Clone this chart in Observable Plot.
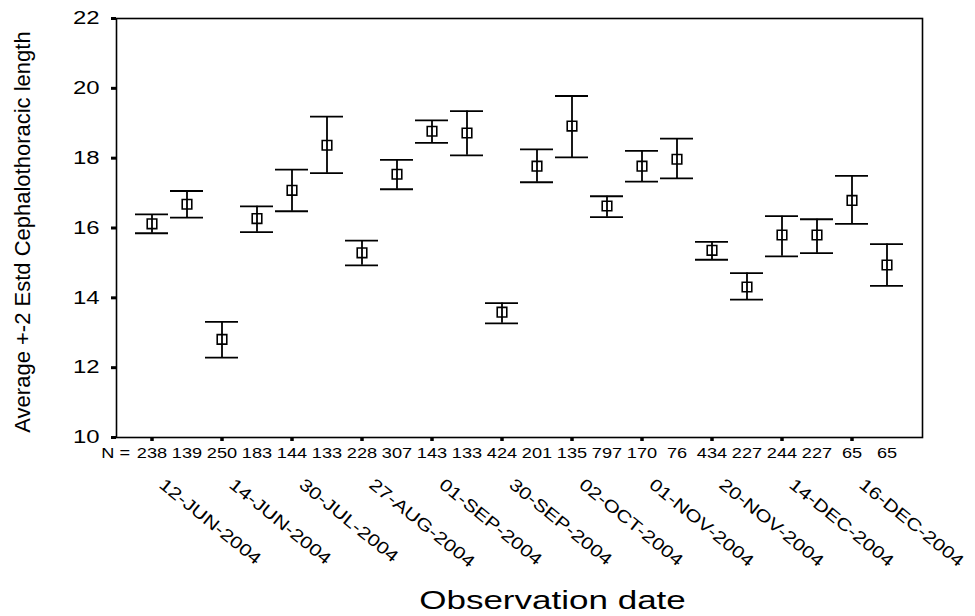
<!DOCTYPE html>
<html>
<head>
<meta charset="utf-8">
<script src="https://cdn.jsdelivr.net/npm/d3@7"></script>
<script src="https://cdn.jsdelivr.net/npm/@observablehq/plot@0.6"></script>
<style>
  html, body { margin: 0; padding: 0; background: #fff; }
  body { width: 975px; height: 616px; overflow: hidden; }
  svg { font-family: "Liberation Sans", Arial, sans-serif; }
</style>
</head>
<body>
<script>
// Observation groups (x categories, in order)
const groups = [1,2,3,4,5,6,7,8,9,10,11,12,13,14,15,16,17,18,19,20,21,22];
// Date labels shown on every other group (SPSS thinned labels)
const dateLabels = ["12-JUN-2004","14-JUN-2004","30-JUL-2004","27-AUG-2004","01-SEP-2004",
  "30-SEP-2004","02-OCT-2004","01-NOV-2004","20-NOV-2004","14-DEC-2004","16-DEC-2004"];
// Sample sizes
const ns = [238,139,250,183,144,133,228,307,143,133,424,201,135,797,170,76,434,227,244,227,65,65];
// Means and +-2 SE limits of cephalothoracic length
const means = [16.12,16.68,12.81,16.27,17.08,18.37,15.29,17.54,18.77,18.72,13.59,17.77,18.92,16.63,17.77,17.97,15.36,14.31,15.80,15.80,16.79,14.94];
const highs = [16.39,17.06,13.31,16.62,17.67,19.19,15.64,17.95,19.08,19.35,13.85,18.25,19.78,16.91,18.21,18.56,15.60,14.71,16.34,16.25,17.49,15.54];
const lows  = [15.85,16.30,12.29,15.88,16.48,17.57,14.93,17.11,18.44,18.08,13.27,17.31,18.02,16.31,17.33,17.42,15.09,13.95,15.19,15.28,16.12,14.34];
const yTicks = [10,12,14,16,18,20,22];

const data = groups.map((g, i) => ({g, n: ns[i], mean: means[i], hi: highs[i], lo: lows[i]}));
const tickGroups = groups.filter((g, i) => i % 2 === 0);

const chart = Plot.plot({
  width: 975,
  height: 616,
  marginLeft: 116,
  marginRight: 53,
  marginTop: 18,
  marginBottom: 179,
  style: {fontFamily: "'Liberation Sans', Arial, sans-serif", color: "#000", background: "#fff"},
  x: {type: "band", domain: groups, paddingInner: 0.06, paddingOuter: 0.53, align: 0.5},
  y: {domain: [10, 22]},
  marks: [
    Plot.frame({stroke: "#000", strokeWidth: 1.6}),
    Plot.axisY({ticks: yTicks, tickSize: 5, tickPadding: 12, strokeWidth: 3, fontSize: 18, label: null}),
    Plot.axisX({ticks: tickGroups, tickSize: 4, strokeWidth: 3.5, tickFormat: () => "", label: null}),
    Plot.ruleX(data, {x: "g", y1: "lo", y2: "hi", stroke: "#000", strokeWidth: 1.8}),
    Plot.tickY(data, {x: "g", y: "hi", stroke: "#000", strokeWidth: 1.8}),
    Plot.tickY(data, {x: "g", y: "lo", stroke: "#000", strokeWidth: 1.8}),
    Plot.dot(data, {x: "g", y: "mean", symbol: "square", r: 5.4, stroke: "#000", fill: "none", strokeWidth: 1.6}),
    Plot.text(data, {x: "g", text: d => String(d.n), frameAnchor: "bottom", dy: 20, fontSize: 14.5, fill: "#000"}),
    Plot.text([data[0]], {x: "g", text: () => "N =", frameAnchor: "bottom", dy: 20, dx: -22, textAnchor: "end", fontSize: 14.5, fill: "#000"}),
    Plot.text(tickGroups, {x: d => d, text: (d, i) => dateLabels[i], frameAnchor: "bottom", dx: 6, dy: 49, rotate: 39, textAnchor: "start", fontSize: 17, fill: "#000"}),
    Plot.text(["Average +-2 Estd Cephalothoracic length"], {frameAnchor: "left", textAnchor: "middle", dx: -94, dy: 4, rotate: -90, fontSize: 22, fill: "#000"}),
    Plot.text(["Observation date"], {frameAnchor: "bottom", dx: 33, dy: 171, fontSize: 25, fill: "#000"})
  ]
});
document.body.appendChild(chart);

// horizontal stretch of text to mimic the reference's wide glyphs
const nSet = new Set(ns.map(String).concat(["N ="]));
const dateSet = new Set(dateLabels);
function stretchEl(el, s) {
  const len = el.getComputedTextLength();
  if (len > 0) {
    el.setAttribute("textLength", (len * s).toFixed(1));
    el.setAttribute("lengthAdjust", "spacingAndGlyphs");
  }
}
d3.select(chart).selectAll('g[aria-label="y-axis tick label"] text').each(function() { stretchEl(this, 1.33); });
d3.select(chart).selectAll('g[aria-label="text"] text').each(function() {
  const t = this.textContent;
  if (nSet.has(t)) stretchEl(this, 1.25);
  else if (dateSet.has(t)) stretchEl(this, 1.24);
  else if (t === "Observation date") stretchEl(this, 1.4);
});
</script>
</body>
</html>
